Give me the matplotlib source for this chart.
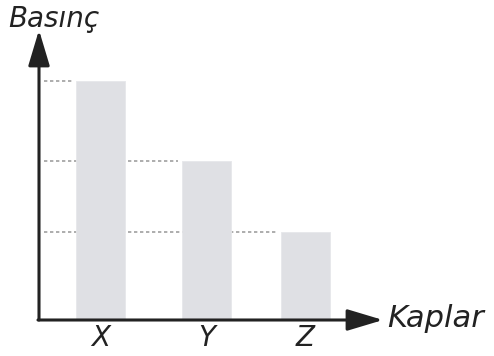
import matplotlib.pyplot as plt
from matplotlib.patches import ArrowStyle

# data
categories = ['X', 'Y', 'Z']
pressure = [3.0, 2.0, 1.1]

# layout (bar centres in axis units, not data)
bar_pos = [0.0, 1.0, 1.934]
bar_width = 0.462
bar_color = '#dfe0e4'
ink = '#222222'

fig = plt.figure(figsize=(4.94, 3.56), dpi=100)
ax = fig.add_axes([39 / 494, 36 / 356, 344 / 494, 290 / 356])

# dashed guide lines from the axis to each bar (hidden behind earlier bars)
for x, v in zip(bar_pos, pressure):
    ax.hlines(v, -0.53, x - bar_width / 2 - 0.035, colors='#a0a0a0', lw=1.2,
              linestyles=(0, (2, 1.6)), zorder=1)

ax.bar(bar_pos, pressure, width=bar_width, color=bar_color,
       edgecolor='#e6e7ea', lw=0.6, zorder=2)

ax.set_xlim(-0.58, 2.665)
ax.set_ylim(0, 3.64)

for s in ax.spines.values():
    s.set_visible(False)
ax.set_yticks([])
ax.set_xticks(bar_pos)
ax.set_xticklabels(categories, fontsize=20, style='italic', color=ink)
ax.tick_params(axis='x', length=0, pad=3)

# axis arrows
style = ArrowStyle('-|>', head_length=1.1, head_width=0.33)
arrow = dict(arrowstyle=style, mutation_scale=20, lw=2.2, color=ink,
             shrinkA=0, shrinkB=0)
ax.annotate('', xy=(0, 1), xytext=(0, 0), xycoords='axes fraction',
            arrowprops=arrow, annotation_clip=False)
ax.annotate('', xy=(1, 0), xytext=(-0.003, 0), xycoords='axes fraction',
            arrowprops=arrow, annotation_clip=False)

fig.text(8 / 494, 1 - 27 / 356, 'Basınç', fontsize=20, style='italic',
         color=ink, ha='left', va='baseline')
fig.text(387 / 494, 1 - 327 / 356, 'Kaplar', fontsize=22, style='italic',
         color=ink, ha='left', va='baseline')

fig.savefig('out.png', dpi=100, facecolor='white')
